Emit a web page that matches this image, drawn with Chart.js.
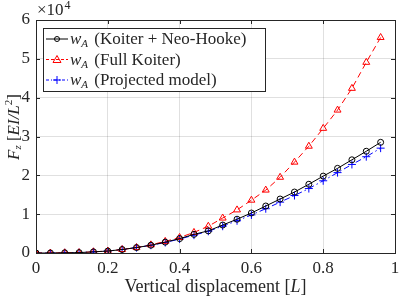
<!DOCTYPE html>
<html>
<head>
<meta charset="utf-8">
<script src="https://cdn.jsdelivr.net/npm/chart.js@4"></script>
<style>
  html, body { margin: 0; padding: 0; background: #fff; }
  #wrap { width: 400px; height: 300px; }
</style>
</head>
<body>
<div id="wrap"><canvas id="myChart" width="400" height="300"></canvas></div>
<script>
// data (force in units of EI/L^2)
const displacement = [0, 0.04, 0.08, 0.12, 0.16, 0.2, 0.24, 0.28, 0.32, 0.36, 0.4, 0.44, 0.48,
  0.52, 0.56, 0.6, 0.64, 0.68, 0.72, 0.76, 0.8, 0.84, 0.88, 0.92, 0.96];
const koiterNeoHooke = [0, 0, 50, 100, 300, 500, 900, 1400, 2000, 2800, 3700, 4800, 5700,
  7200, 8700, 10300, 12100, 13900, 15700, 17700, 19800, 21800, 24000, 26200, 28500];
const fullKoiter = [0, 0, 50, 100, 300, 500, 900, 1400, 2100, 3000, 4000, 5300, 6900,
  9000, 11100, 13600, 16200, 19500, 23400, 27500, 32100, 36800, 42400, 49100, 55500];
const projectedModel = [0, 0, 50, 100, 300, 500, 900, 1400, 2000, 2700, 3600, 4600, 5600,
  6900, 8300, 9800, 11400, 13100, 14800, 16600, 18600, 20700, 22800, 24800, 27000];
const seriesNames = ["(Koiter + Neo-Hooke)", "(Full Koiter)", "(Projected model)"];
const xTicks = [0, 0.2, 0.4, 0.6, 0.8, 1];
const yTicks = [0, 10000, 20000, 30000, 40000, 50000, 60000];

const serif = "'Liberation Serif', 'DejaVu Serif', serif";

function pts(ys) {
  return displacement.map((x, i) => ({ x: x, y: ys[i] }));
}

const dsStyle = [
  { color: "#000000", point: "circle", radius: 3, dash: [] },
  { color: "#ff0000", point: "triangle", radius: 4, dash: [6, 4] },
  { color: "#0000ff", point: "cross", radius: 4, dash: [6, 3, 1.5, 3] },
];

// legend, box, inward ticks, axis titles
const matlabPlugin = {
  id: "matlabStyle",
  afterDraw(chart) {
    const c = chart.ctx;
    const a = chart.chartArea;
    const xs = chart.scales.x, ys = chart.scales.y;
    c.save();
    // box
    c.strokeStyle = "#262626";
    c.lineWidth = 1;
    c.strokeRect(a.left + 0.5, a.top + 0.5, a.right - a.left, a.bottom - a.top);
    // inward ticks
    c.beginPath();
    xTicks.forEach(t => {
      const px = Math.round(xs.getPixelForValue(t)) + 0.5;
      c.moveTo(px, a.bottom); c.lineTo(px, a.bottom - 4);
      c.moveTo(px, a.top); c.lineTo(px, a.top + 4);
    });
    yTicks.forEach(t => {
      const py = Math.round(ys.getPixelForValue(t)) + 0.5;
      c.moveTo(a.left, py); c.lineTo(a.left + 4, py);
      c.moveTo(a.right, py); c.lineTo(a.right - 4, py);
    });
    c.stroke();

    c.fillStyle = "#262626";
    // x10^4
    c.textBaseline = "alphabetic";
    c.textAlign = "left";
    c.font = "17px " + serif;
    c.fillText("\u00d710", 37, 15);
    const w10 = c.measureText("\u00d710").width;
    c.font = "12px " + serif;
    c.fillText("4", 37 + w10 + 1, 9);

    // y title
    c.save();
    c.translate(15, 127);
    c.rotate(-Math.PI / 2);
    const parts = [
      { t: "F", f: "italic 17px " + serif, dy: 0 },
      { t: "z", f: "italic 11px " + serif, dy: 3 },
      { t: " [", f: "17px " + serif, dy: 0 },
      { t: "EI/L", f: "italic 17px " + serif, dy: 0 },
      { t: "2", f: "11px " + serif, dy: -6 },
      { t: "]", f: "17px " + serif, dy: 0 },
    ];
    let total = 0;
    parts.forEach(p => { c.font = p.f; p.w = c.measureText(p.t).width; total += p.w; });
    let x0 = -total / 2;
    c.textBaseline = "middle";
    parts.forEach(p => { c.font = p.f; c.fillText(p.t, x0, p.dy); x0 += p.w; });
    c.restore();

    // x title
    c.textAlign = "left";
    c.textBaseline = "alphabetic";
    const xf = "18px " + serif, xfi = "italic 18px " + serif;
    const xt1 = "Vertical displacement [", xt2 = "L", xt3 = "]";
    c.font = xf;
    const w1 = c.measureText(xt1).width, w3 = c.measureText(xt3).width;
    c.font = xfi;
    const w2 = c.measureText(xt2).width;
    let xx = (a.left + a.right) / 2 - (w1 + w2 + w3) / 2;
    c.font = xf; c.fillText(xt1, xx, 292); xx += w1;
    c.font = xfi; c.fillText(xt2, xx, 292); xx += w2;
    c.font = xf; c.fillText(xt3, xx, 292);

    // legend
    const lx = 43, ly = 28, lw = 222, lh = 63;
    c.fillStyle = "#ffffff";
    c.fillRect(lx, ly, lw, lh);
    c.strokeStyle = "#262626";
    c.lineWidth = 1;
    c.strokeRect(lx + 0.5, ly + 0.5, lw, lh);
    const rowsY = [39, 59.5, 80];
    dsStyle.forEach((s, i) => {
      const y = rowsY[i];
      c.save();
      c.strokeStyle = s.color;
      c.lineWidth = 1;
      c.setLineDash(s.dash.length ? [3, 2] : []);
      if (i === 2) c.setLineDash([3, 2, 1, 2]);
      c.beginPath(); c.moveTo(46, y); c.lineTo(68, y); c.stroke();
      c.setLineDash([]);
      c.beginPath();
      if (s.point === "circle") {
        c.arc(57, y, 2.5, 0, Math.PI * 2);
      } else if (s.point === "triangle") {
        c.moveTo(57, y - 4); c.lineTo(61, y + 3); c.lineTo(53, y + 3); c.closePath();
      } else {
        c.moveTo(53, y); c.lineTo(61, y); c.moveTo(57, y - 4); c.lineTo(57, y + 4);
      }
      c.stroke();
      c.restore();
      c.fillStyle = "#262626";
      c.textBaseline = "alphabetic";
      c.font = "italic 17px " + serif;
      c.fillText("w", 70, y + 5);
      const ww = c.measureText("w").width;
      c.font = "italic 11px " + serif;
      c.fillText("A", 70 + ww, y + 8);
      const wa = c.measureText("A").width;
      c.font = "17px " + serif;
      c.fillText(" " + seriesNames[i], 70 + ww + wa + 2, y + 5);
    });
    c.restore();
  }
};

const ctx = document.getElementById("myChart").getContext("2d");

const myChart = new Chart(ctx, {
  type: "line",
  data: {
    datasets: [
      { label: "Koiter + Neo-Hooke", data: pts(koiterNeoHooke) },
      { label: "Full Koiter", data: pts(fullKoiter) },
      { label: "Projected model", data: pts(projectedModel) },
    ].map((d, i) => Object.assign(d, {
      borderColor: dsStyle[i].color,
      backgroundColor: "rgba(0,0,0,0)",
      pointBorderColor: dsStyle[i].color,
      pointBackgroundColor: "rgba(0,0,0,0)",
      pointStyle: dsStyle[i].point,
      pointRadius: dsStyle[i].radius,
      pointBorderWidth: 1,
      borderWidth: 1,
      borderDash: dsStyle[i].dash,
      tension: 0,
      fill: false,
    })),
  },
  options: {
    responsive: false,
    animation: false,
    layout: { padding: { top: 20, right: 0, left: 0, bottom: 0 } },
    plugins: { legend: { display: false }, tooltip: { enabled: false } },
    scales: {
      x: {
        type: "linear",
        min: 0, max: 1,
        afterBuildTicks: s => { s.ticks = xTicks.map(v => ({ value: v })); },
        afterFit: s => { s.height = 47; s.paddingRight = 4; s.paddingLeft = 0; },
        border: { display: false },
        grid: { color: "rgba(0,0,0,0.12)", drawTicks: false },
        ticks: {
          color: "#262626",
          padding: 5,
          font: { family: serif, size: 17 },
          callback: v => String(v),
          maxRotation: 0,
        },
      },
      y: {
        min: 0, max: 60000,
        afterBuildTicks: s => { s.ticks = yTicks.map(v => ({ value: v })); },
        afterFit: s => { s.width = 36; },
        border: { display: false },
        grid: { color: "rgba(0,0,0,0.12)", drawTicks: false },
        ticks: {
          color: "#262626",
          padding: 6,
          font: { family: serif, size: 17 },
          callback: v => String(v / 10000),
        },
      },
    },
  },
  plugins: [matlabPlugin],
});
</script>
</body>
</html>
